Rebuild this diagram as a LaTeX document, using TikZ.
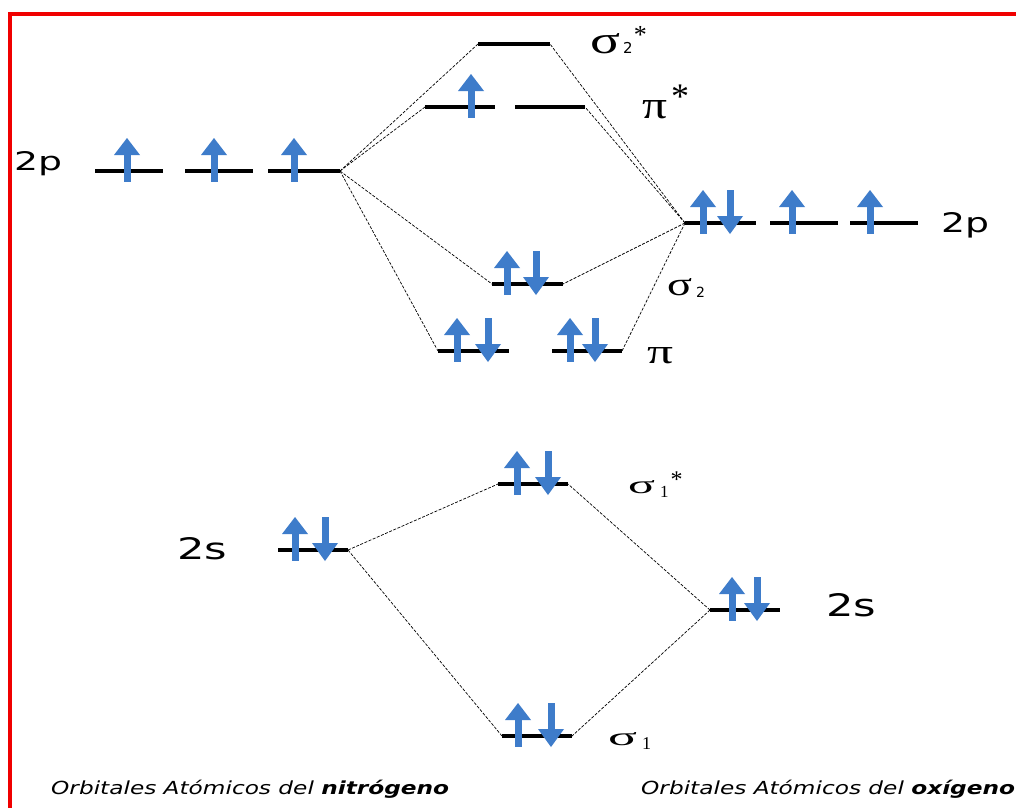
\documentclass[tikz,border=0pt]{standalone}
\usepackage{fontspec}
\usepackage{graphicx}
\setmainfont{DejaVu Sans}
\newfontfamily\grk{Liberation Serif}
\definecolor{spinblue}{RGB}{62,124,202}
\definecolor{framered}{RGB}{240,0,0}
\newcommand\strk[1]{{\grk\fontsize{#1}{#1}\selectfont *}}
\newcommand\subd[2]{{\fontsize{#1}{#1}\selectfont #2}}
\newcommand\subg[2]{{\grk\fontsize{#1}{#1}\selectfont #2}}
\begin{document}
\begin{tikzpicture}[x=1pt,y=-1pt,
  lvl/.style={line width=4.5pt},
  conn/.style={line width=0.7pt, dash pattern=on 3pt off 1.5pt},
  lbl/.style={inner sep=0pt, anchor=base west},
  foot/.style={inner sep=0pt, anchor=base west, font=\fontsize{18}{18}\selectfont},
  pics/spinup/.style={code={
    \fill[spinblue] (-3.5,11) rectangle (3.5,-17);
    \fill[spinblue] (-13,-16) -- (13,-16) -- (0,-33) -- cycle;}},
  pics/spindown/.style={code={
    \fill[spinblue] (-3.5,-33) rectangle (3.5,-6);
    \fill[spinblue] (-13,-7) -- (13,-7) -- (0,11) -- cycle;}}
]
\useasboundingbox (0,0) rectangle (1016,807);
\fill[white] (0,0) rectangle (1016,807);
% frame
\draw[framered, line width=4pt] (10,810) -- (10,14) -- (1020,14);

% level end points
\coordinate (L2pa-l) at (95,171);  \coordinate (L2pa-r) at (163,171);
\coordinate (L2pb-l) at (185,171); \coordinate (L2pb-r) at (253,171);
\coordinate (L2pc-l) at (268,171); \coordinate (L2pc-r) at (340,171);
\coordinate (R2pa-l) at (685,223); \coordinate (R2pa-r) at (756,223);
\coordinate (R2pb-l) at (770,223); \coordinate (R2pb-r) at (838,223);
\coordinate (R2pc-l) at (850,223); \coordinate (R2pc-r) at (918,223);
\coordinate (s2s-l) at (478,44);   \coordinate (s2s-r) at (550,44);
\coordinate (pisa-l) at (425,107); \coordinate (pisa-r) at (495,107);
\coordinate (pisb-l) at (515,107); \coordinate (pisb-r) at (585,107);
\coordinate (s2-l) at (492,284);   \coordinate (s2-r) at (563,284);
\coordinate (pia-l) at (438,351);  \coordinate (pia-r) at (509,351);
\coordinate (pib-l) at (552,351);  \coordinate (pib-r) at (622,351);
\coordinate (s1s-l) at (498,484);  \coordinate (s1s-r) at (568,484);
\coordinate (L2s-l) at (278,550);  \coordinate (L2s-r) at (348,550);
\coordinate (R2s-l) at (710,610);  \coordinate (R2s-r) at (780,610);
\coordinate (s1-l) at (502,736);   \coordinate (s1-r) at (572,736);

% connectors
\draw[conn] (L2pc-r) -- (s2s-l);
\draw[conn] (L2pc-r) -- (pisa-l);
\draw[conn] (L2pc-r) -- (s2-l);
\draw[conn] (L2pc-r) -- (pia-l);
\draw[conn] (R2pa-l) -- (s2s-r);
\draw[conn] (R2pa-l) -- (pisb-r);
\draw[conn] (R2pa-l) -- (s2-r);
\draw[conn] (R2pa-l) -- (pib-r);
\draw[conn] (L2s-r) -- (s1s-l);
\draw[conn] (L2s-r) -- (s1-l);
\draw[conn] (R2s-l) -- (s1s-r);
\draw[conn] (R2s-l) -- (s1-r);

% levels
\foreach \n in {L2pa,L2pb,L2pc,R2pa,R2pb,R2pc,s2s,pisa,pisb,s2,pia,pib,s1s,L2s,R2s,s1}
  \draw[lvl] (\n-l) -- (\n-r);

% electrons
\pic at (127,171) {spinup};
\pic at (214,171) {spinup};
\pic at (294,171) {spinup};
\pic at (703,223) {spinup};
\pic at (730,223) {spindown};
\pic at (792,223) {spinup};
\pic at (870,223) {spinup};
\pic at (471,107) {spinup};
\pic at (507,284) {spinup};
\pic at (536,284) {spindown};
\pic at (457,351) {spinup};
\pic at (488,351) {spindown};
\pic at (570,351) {spinup};
\pic at (595,351) {spindown};
\pic at (517,484) {spinup};
\pic at (548,484) {spindown};
\pic at (295,550) {spinup};
\pic at (325,550) {spindown};
\pic at (732,610) {spinup};
\pic at (757,610) {spindown};
\pic at (518,736) {spinup};
\pic at (551,736) {spindown};

% labels
\node[lbl] (lab-L2p) at (14,170) {\resizebox{48pt}{19pt}{2p}};
\node[lbl] (lab-R2p) at (941,232) {\resizebox{48pt}{20pt}{2p}};
\node[lbl] (lab-L2s) at (177,559) {\resizebox{50pt}{22pt}{2s}};
\node[lbl] (lab-R2s) at (826,616) {\resizebox{50pt}{23pt}{2s}};

\node[lbl] (lab-s2s) at (590,53) {\resizebox{30pt}{20pt}{\grk σ}\kern3pt\subd{15}{2}\kern1pt\raisebox{10pt}{\strk{26}}};
\node[lbl] (lab-pis) at (642,118) {\resizebox{25pt}{18pt}{\grk π}\kern4pt\raisebox{10pt}{\strk{36}}};
\node[lbl] (lab-s2) at (667,295) {\resizebox{25pt}{17pt}{\grk σ}\kern4pt\raisebox{-2pt}{\subd{14}{2}}};
\node[lbl] (lab-pi) at (647,363) {\resizebox{26pt}{16pt}{\grk π}};
\node[lbl] (lab-s1s) at (628,493) {\resizebox{27pt}{13pt}{\grk σ}\kern5pt\raisebox{-4pt}{\subg{17}{1}}\kern2pt\raisebox{6pt}{\strk{24}}};
\node[lbl] (lab-s1) at (608,745) {\resizebox{29pt}{13pt}{\grk σ}\kern5pt\raisebox{-4pt}{\subg{18}{1}}};

% footers
\node[foot] (foot-N) at (51,794) {\scalebox{1.29}[1]{\textit{Orbitales Atómicos del \textbf{nitrógeno}}}};
\node[foot] (foot-O) at (641,794) {\scalebox{1.29}[1]{\textit{Orbitales Atómicos del \textbf{oxígeno}}}};
\end{tikzpicture}
\end{document}
